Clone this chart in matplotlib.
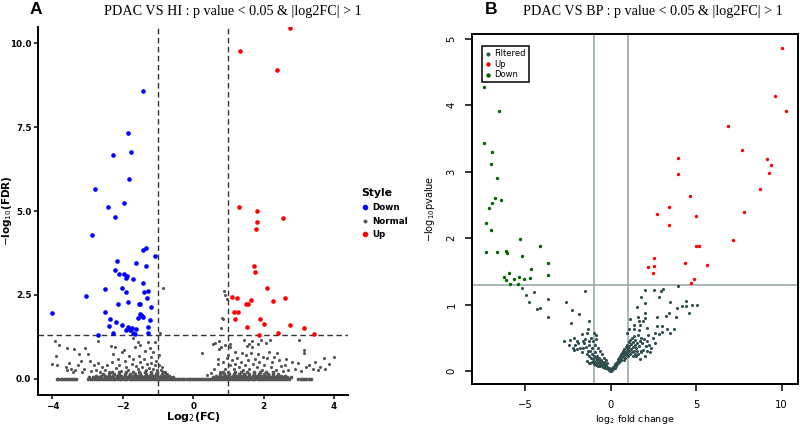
import matplotlib
matplotlib.use("Agg")
import matplotlib.pyplot as plt
from matplotlib.lines import Line2D

# ---------------- panel A : PDAC vs HI ----------------
a_down = [(-1.44, 8.58), (-1.85, 7.31), (-2.28, 6.66), (-1.78, 6.77), (-1.82, 5.95),
          (-2.78, 5.65), (-2.41, 5.11), (-1.97, 5.23), (-2.22, 4.82), (-2.88, 4.30),
          (-4.0, 1.97), (-3.04, 2.47), (-1.35, 3.90), (-1.44, 3.84), (-1.10, 3.66),
          (-2.18, 3.52), (-1.63, 3.46), (-1.35, 3.37), (-2.22, 3.23), (-2.10, 3.12),
          (-1.97, 3.12), (-1.89, 3.07), (-1.90, 3.02), (-1.71, 2.98), (-1.42, 2.86),
          (-2.03, 2.71), (-2.50, 2.67), (-1.92, 2.59), (-1.41, 2.59), (-1.28, 2.62),
          (-1.32, 2.42), (-1.85, 2.28), (-1.52, 2.22), (-1.55, 2.22), (-2.15, 2.22),
          (-1.21, 2.15), (-2.50, 2.00), (-1.52, 1.93), (-1.49, 1.90), (-1.45, 1.87),
          (-1.58, 1.82), (-1.42, 1.83), (-2.36, 1.78), (-1.24, 1.76), (-2.20, 1.69),
          (-2.03, 1.60), (-2.38, 1.58), (-1.86, 1.56), (-1.74, 1.53), (-1.29, 1.55),
          (-1.91, 1.45), (-1.80, 1.45), (-1.64, 1.50), (-2.27, 1.38), (-1.71, 1.36),
          (-1.66, 1.33), (-1.28, 1.36), (-2.71, 1.31)]

a_up = [(2.75, 10.46), (1.33, 9.77), (2.39, 9.21), (1.29, 5.11), (1.82, 4.99),
        (2.54, 4.79), (1.81, 4.68), (1.78, 4.46), (1.73, 3.36), (1.77, 3.18),
        (2.11, 2.71), (1.10, 2.43), (1.25, 2.42), (2.62, 2.41), (1.63, 2.36),
        (2.26, 2.31), (1.50, 2.24), (1.57, 2.23), (1.16, 2.00), (1.28, 2.00),
        (1.18, 1.79), (1.91, 1.78), (2.00, 1.65), (1.52, 1.55), (2.75, 1.60),
        (3.15, 1.52), (2.41, 1.38), (1.86, 1.31), (3.44, 1.35)]

# scattered "Normal" genes above the dense band
a_normal = [(-0.86, 2.72), (-0.94, 1.38), (-3.94, 1.13), (-3.82, 1.00), (-3.58, 0.93),
            (-3.38, 0.88), (-3.07, 0.92), (-3.90, 0.67), (-4.0, 0.44), (-3.86, 0.40),
            (-2.72, 1.13), (-3.24, 0.74), (-3.00, 0.74), (-2.94, 0.53), (-3.52, 0.46),
            (-3.48, 0.31), (-3.62, 0.36), (-3.35, 0.28), (-3.27, 0.40), (-2.70, 0.47),
            (-2.81, 0.41), (-2.35, 0.99), (-2.23, 0.96), (-2.28, 0.73), (-1.97, 0.87),
            (-2.03, 0.80), (-2.13, 0.60), (-1.71, 1.22), (-1.66, 0.96), (-1.56, 1.10),
            (-1.50, 1.01), (-1.28, 1.10), (-1.10, 1.09), (-1.23, 0.91), (-1.38, 0.84),
            (-1.15, 0.81), (-1.83, 0.68), (-1.53, 0.68), (-1.19, 0.64), (-1.05, 0.54),
            (-0.96, 0.42), (-2.6, 0.35), (-2.5, 0.28), (-2.45, 0.42), (-2.38, 0.22),
            (-2.3, 0.5), (-2.2, 0.32), (-2.1, 0.4), (-2.05, 0.25), (-1.95, 0.52),
            (-1.9, 0.35), (-1.85, 0.28), (-1.75, 0.45), (-1.7, 0.6), (-1.62, 0.38),
            (-1.58, 0.3), (-1.5, 0.5), (-1.45, 0.36), (-1.4, 0.58), (-1.35, 0.27),
            (-1.3, 0.44), (-1.25, 0.33), (-1.2, 0.48), (-1.14, 0.3), (-1.08, 0.4),
            (-1.02, 0.28), (-0.98, 0.7), (-0.92, 0.26), (-0.88, 0.35), (-0.8, 0.2),
            (-0.75, 0.15), (-2.9, 0.25), (-3.1, 0.3), (-3.15, 0.2), (-2.65, 0.2),
            (-2.75, 0.28), (-3.42, 0.22), (-3.2, 0.52), (-3.6, 0.26),
            (0.87, 2.63), (0.90, 2.49), (0.95, 2.37), (0.84, 1.78), (0.81, 1.80),
            (0.78, 1.53), (0.25, 0.78), (0.56, 1.04), (0.63, 1.06), (0.74, 1.13),
            (0.80, 0.95), (0.72, 0.88), (0.9, 1.0), (1.04, 1.05), (1.04, 0.96),
            (1.00, 0.72), (1.45, 1.17), (1.52, 0.98), (1.58, 1.05), (1.66, 1.12),
            (1.68, 0.96), (1.40, 0.78), (1.64, 0.78), (1.85, 1.03), (2.07, 1.08),
            (2.17, 1.17), (1.92, 1.16), (1.83, 0.74), (2.15, 0.79), (2.39, 0.76),
            (2.31, 0.66), (2.1, 0.62), (1.97, 0.64), (3.02, 1.15), (3.14, 0.86),
            (3.14, 0.77), (3.72, 0.62), (3.99, 0.65), (3.85, 0.44), (3.47, 0.51),
            (2.97, 0.48), (2.8, 0.5), (2.6, 0.42), (2.5, 0.38), (3.3, 0.42),
            (3.6, 0.36), (3.75, 0.3), (3.55, 0.28), (3.4, 0.3), (3.2, 0.35),
            (3.05, 0.25), (2.9, 0.3), (2.7, 0.28), (0.6, 0.3), (0.7, 0.45),
            (0.75, 0.2), (0.85, 0.5), (0.9, 0.3), (0.95, 0.62), (1.05, 0.4),
            (1.1, 0.55), (1.15, 0.3), (1.2, 0.45), (1.25, 0.62), (1.3, 0.35),
            (1.35, 0.5), (1.42, 0.28), (1.48, 0.42), (1.55, 0.55), (1.6, 0.3),
            (1.7, 0.45), (1.75, 0.6), (1.8, 0.35), (1.88, 0.5), (1.95, 0.28),
            (2.02, 0.42), (2.2, 0.35), (2.25, 0.5), (2.35, 0.28), (2.45, 0.55),
            (2.55, 0.25), (0.5, 0.18), (0.4, 0.12), (2.65, 0.6), (1.5, 0.7),
            (1.2, 0.8), (0.7, 0.6)]

# dense band of "Normal" genes near FDR = 1, one list of x per height
band_y = [0.0, 0.05, 0.10, 0.16, 0.22]
band_x0 = [-3.88, -3.83, -3.77, -3.72, -3.66, -3.61, -3.55, -3.5, -3.44, -3.39, -3.33,
           -2.99, -2.93, -2.88, -2.82, -2.77, -2.71, -2.65, -2.6, -2.54, -2.49, -2.43,
           -2.37, -2.32, -2.26, -2.21, -2.15, -2.09, -2.04, -1.98, -1.93, -1.87, -1.81,
           -1.76, -1.7, -1.65, -1.59, -1.53, -1.48, -1.42, -1.37, -1.31, -1.25, -1.2,
           -1.14, -1.09, -1.03, -0.97, -0.92, -0.86, -0.81, -0.75, -0.69, -0.64, -0.58,
           -0.53, -0.47, -0.41, -0.36, -0.3, -0.25, -0.19, -0.13, -0.08, -0.02, 0.03,
           0.09, 0.15, 0.2, 0.26, 0.31, 0.37, 0.43, 0.48, 0.54, 0.59, 0.65, 0.71, 0.76,
           0.82, 0.87, 0.93, 0.99, 1.04, 1.1, 1.15, 1.21, 1.27, 1.32, 1.38, 1.43, 1.49,
           1.55, 1.6, 1.66, 1.71, 1.77, 1.83, 1.88, 1.94, 1.99, 2.05, 2.11, 2.16, 2.22,
           2.27, 2.33, 2.39, 2.44, 2.5, 2.55, 2.61, 2.67, 2.72, 2.99, 3.05, 3.1, 3.16,
           3.22, 3.28, 3.34]
band_x1 = [-2.95, -2.86, -2.78, -2.69, -2.61, -2.52, -2.44, -2.35, -2.27, -2.18, -2.1,
           -2.01, -1.93, -1.84, -1.76, -1.67, -1.59, -1.5, -1.42, -1.33, -1.25, -1.16,
           -1.08, -0.99, -0.91, -0.82, -0.74, -0.65, -0.57, 0.56, 0.64, 0.73, 0.81, 0.9,
           0.98, 1.07, 1.15, 1.24, 1.32, 1.41, 1.49, 1.58, 1.66, 1.75, 1.83, 1.92, 2.0,
           2.09, 2.17, 2.26, 2.34, 2.43, 2.51, 2.6, 2.68, 2.77]
band_x2 = [-2.75, -2.63, -2.52, -2.4, -2.29, -2.17, -2.06, -1.94, -1.83, -1.71, -1.6,
           -1.48, -1.37, -1.25, -1.14, -1.02, -0.91, -0.79, -0.68, 0.66, 0.77, 0.89, 1.0,
           1.12, 1.23, 1.35, 1.46, 1.58, 1.69, 1.81, 1.92, 2.04, 2.15, 2.27, 2.38, 2.5,
           2.61]
band_x3 = [-2.55, -2.4, -2.25, -2.1, -1.95, -1.8, -1.65, -1.5, -1.35, -1.2, -1.05, -0.9,
           -0.78, 0.75, 0.88, 1.02, 1.16, 1.3, 1.44, 1.58, 1.72, 1.86, 2.0, 2.14, 2.28,
           2.42]
band_x4 = [-2.3, -2.1, -1.9, -1.72, -1.55, -1.38, -1.2, -1.02, -0.86, 0.84, 1.0, 1.18,
           1.36, 1.54, 1.72, 1.9, 2.08, 2.26]

# ---------------- panel B : PDAC vs BP ----------------
b_down = [(-7.40, 4.27), (-6.54, 3.92), (-7.44, 3.43), (-6.97, 3.30), (-7.01, 3.11),
          (-6.66, 2.90), (-6.76, 2.61), (-6.43, 2.57), (-6.97, 2.53), (-7.11, 2.46),
          (-7.31, 2.23), (-7.03, 2.12), (-5.31, 1.99), (-4.14, 1.89), (-7.29, 1.79),
          (-6.68, 1.79), (-6.15, 1.81), (-6.07, 1.78), (-5.21, 1.73), (-3.65, 1.63),
          (-4.69, 1.54), (-5.98, 1.48), (-3.67, 1.45), (-6.23, 1.41), (-5.37, 1.42),
          (-6.12, 1.37), (-5.65, 1.39), (-5.06, 1.38), (-4.71, 1.40), (-5.90, 1.31),
          (-5.45, 1.31)]

b_up = [(10.05, 4.87), (9.63, 4.14), (10.29, 3.92), (6.85, 3.69), (7.71, 3.33),
        (9.16, 3.19), (9.41, 3.10), (9.27, 2.98), (3.94, 3.20), (3.94, 2.97),
        (4.66, 2.64), (8.76, 2.74), (3.40, 2.47), (2.73, 2.37), (7.83, 2.40),
        (5.02, 2.33), (3.43, 2.20), (7.15, 1.97), (4.98, 1.88), (5.19, 1.88),
        (2.54, 1.70), (2.17, 1.57), (2.55, 1.58), (4.35, 1.62), (5.64, 1.59),
        (2.50, 1.48), (4.88, 1.38), (4.69, 1.32)]

b_filtered = [(-5.18, 1.25), (-4.49, 1.19), (-4.98, 1.14), (-4.79, 1.04), (-3.67, 1.08),
              (-2.62, 1.04), (-1.51, 1.20), (-4.30, 0.94), (-4.16, 0.95), (-2.28, 0.92),
              (-1.86, 0.86), (-3.67, 0.81), (-2.33, 0.73), (-1.25, 0.76), (-1.31, 0.63),
              (-2.72, 0.46), (-2.39, 0.47), (-2.16, 0.50), (-2.0, 0.46), (-0.98, 0.58),
              (-0.86, 0.55), (-2.1, 0.40), (-1.8, 0.34), (-1.1, 0.34), (-1.70, 0.56),
              (-1.51, 0.48), (-1.37, 0.58), (-1.6, 0.34), (-1.7, 0.29), (-1.41, 0.25),
              (-1.27, 0.22), (-1.96, 0.33), (-2.15, 0.31), (-1.55, 0.42), (-1.45, 0.36),
              (-1.35, 0.3), (-1.3, 0.45), (-1.25, 0.4), (-1.2, 0.3), (-1.15, 0.5),
              (-1.9, 0.42), (-2.2, 0.35), (-2.45, 0.4), (-1.65, 0.45), (-1.05, 0.45),
              (-0.9, 0.4), (-0.75, 0.35), (-0.6, 0.3), (-0.5, 0.25), (-0.4, 0.2),
              (-0.3, 0.17), (-0.2, 0.12), (-0.85, 0.48), (-1.4, 0.15), (-1.3, 0.12),
              (-1.2, 0.12), (-1.15, 0.2), (-1.1, 0.14), (-1.08, 0.26), (-1.05, 0.18),
              (-1.0, 0.1), (-0.98, 0.22), (-0.95, 0.15), (-0.92, 0.28), (-0.9, 0.12),
              (-0.88, 0.19), (-0.85, 0.09), (-0.82, 0.16), (-0.8, 0.23), (-0.78, 0.12),
              (-0.75, 0.18), (-0.72, 0.08), (-0.7, 0.14), (-0.68, 0.2), (-0.65, 0.1),
              (-0.62, 0.15), (-0.6, 0.07), (-0.58, 0.12), (-0.55, 0.17), (-0.52, 0.09),
              (-0.5, 0.13), (-0.48, 0.06), (-0.45, 0.1), (-0.42, 0.14), (-0.4, 0.07),
              (-0.37, 0.1), (-0.35, 0.05), (-0.32, 0.08), (-0.3, 0.11), (-0.27, 0.05),
              (-0.25, 0.08), (-0.22, 0.04), (-0.2, 0.06), (-0.17, 0.03), (-0.15, 0.05),
              (-0.12, 0.02), (-0.1, 0.04), (-0.07, 0.02), (-0.05, 0.01), (-0.02, 0.0),
              (0.02, 0.0), (0.05, 0.02), (0.08, 0.03), (0.1, 0.05), (0.13, 0.03),
              (0.15, 0.06), (0.18, 0.04), (0.2, 0.08), (0.23, 0.05), (0.25, 0.1),
              (0.28, 0.07), (0.3, 0.12), (0.33, 0.08), (0.35, 0.14), (0.38, 0.1),
              (0.4, 0.16), (0.43, 0.12), (0.45, 0.18), (0.48, 0.13), (0.5, 0.2),
              (0.53, 0.15), (0.55, 0.22), (0.58, 0.17), (0.6, 0.25), (0.63, 0.19),
              (0.65, 0.27), (0.68, 0.21), (0.7, 0.3), (0.73, 0.23), (0.75, 0.17),
              (0.78, 0.26), (0.8, 0.33), (0.83, 0.2), (0.85, 0.28), (0.88, 0.36),
              (0.9, 0.24), (0.93, 0.31), (0.95, 0.4), (0.98, 0.27), (1.0, 0.35),
              (1.03, 0.22), (1.05, 0.44), (1.08, 0.3), (1.1, 0.38), (1.13, 0.25),
              (1.15, 0.47), (1.18, 0.33), (1.2, 0.41), (1.23, 0.28), (1.25, 0.5),
              (1.28, 0.36), (1.3, 0.22), (1.33, 0.44), (1.35, 0.3), (1.38, 0.53),
              (1.4, 0.4), (1.43, 0.26), (1.45, 0.47), (1.48, 0.34), (1.5, 0.22),
              (1.53, 0.42), (1.55, 0.3), (1.58, 0.55), (1.6, 0.25), (1.65, 0.38),
              (1.7, 0.46), (1.75, 0.3), (3.92, 1.28), (1.99, 1.22), (2.54, 1.22),
              (2.95, 1.2), (3.07, 1.23), (1.79, 1.12), (2.82, 1.11), (1.99, 1.03),
              (3.49, 1.04), (4.43, 1.05), (4.2, 0.98), (4.4, 0.98), (4.77, 0.99),
              (5.08, 1.00), (1.52, 0.96), (3.9, 0.95), (4.59, 0.87), (2.0, 0.87),
              (3.4, 0.87), (3.26, 0.83), (1.6, 0.82), (1.65, 0.76), (1.9, 0.76),
              (1.13, 0.78), (2.0, 0.8), (2.7, 0.82), (3.8, 0.82), (1.38, 0.70),
              (1.72, 0.70), (2.69, 0.68), (3.0, 0.68), (3.27, 0.63), (3.71, 0.64),
              (1.05, 0.64), (1.35, 0.64), (1.64, 0.62), (2.1, 0.65), (2.6, 0.57),
              (2.85, 0.56), (3.02, 0.59), (3.47, 0.58), (0.95, 0.58), (1.75, 0.5),
              (1.85, 0.42), (1.95, 0.48), (2.05, 0.38), (2.15, 0.45), (2.25, 0.4),
              (2.35, 0.35), (2.45, 0.5), (2.2, 0.55), (1.9, 0.32), (2.6, 0.42),
              (2.3, 0.28), (1.8, 0.28), (2.0, 0.22), (1.7, 0.18), (2.1, 0.3)]


def xs(points):
    return [p[0] for p in points]


def ys(points):
    return [p[1] for p in points]


fig = plt.figure(figsize=(8, 4.28), dpi=100)

# ---- panel A ----
ax1 = fig.add_axes([0.048, 0.077, 0.387, 0.86])
grey = '#555555'
band_rows = [band_x0, band_x1, band_x2, band_x3, band_x4]
for yv, row in zip(band_y, band_rows):
    ax1.scatter(row, [yv] * len(row), s=7, color=grey, linewidths=0, zorder=2)
ax1.scatter(xs(a_normal), ys(a_normal), s=5, color=grey, linewidths=0, zorder=2)
ax1.scatter(xs(a_down), ys(a_down), s=11, color='#0000FF', linewidths=0, zorder=3)
ax1.scatter(xs(a_up), ys(a_up), s=11, color='#FF0000', linewidths=0, zorder=3)
for xv in (-1, 1):
    ax1.axvline(xv, color='#333333', lw=1.0, ls=(0, (4, 2.5)), zorder=1)
ax1.axhline(1.301, color='#333333', lw=1.0, ls=(0, (4, 2.5)), zorder=1)
ax1.set_xlim(-4.4, 4.4)
ax1.set_ylim(-0.48, 10.48)
ax1.set_xticks([-4, -2, 0, 2, 4])
ax1.set_yticks([0, 2.5, 5, 7.5, 10])
ax1.set_yticklabels(['0.0', '2.5', '5.0', '7.5', '10.0'])
for s in ('top', 'right'):
    ax1.spines[s].set_visible(False)
for s in ('left', 'bottom'):
    ax1.spines[s].set_linewidth(1.4)
ax1.tick_params(width=1.1, length=3, labelsize=6.3, pad=2)
for lab in ax1.get_xticklabels() + ax1.get_yticklabels():
    lab.set_fontweight('bold')
ax1.set_xlabel('Log$_2$(FC)', fontsize=8, fontweight='bold')
ax1.xaxis.set_label_coords(0.5, -0.04)
ax1.set_ylabel('$-$log$_{10}$(FDR)', fontsize=7.5, fontweight='bold')
ax1.yaxis.set_label_coords(-0.078, 0.5)
fig.text(233 / 800, 1 - 11 / 428, 'PDAC VS HI : p value < 0.05 & |log2FC| > 1',
         family='Liberation Serif', fontsize=10.2, ha='center', va='center')

handles = [Line2D([], [], ls='', marker='o', ms=3, color='#0000FF'),
           Line2D([], [], ls='', marker='o', ms=1.8, color=grey),
           Line2D([], [], ls='', marker='o', ms=3, color='#FF0000')]
leg = fig.legend(handles, ['Down', 'Normal', 'Up'], title='Style', loc='upper left',
                 bbox_to_anchor=(0.444, 0.575), frameon=False, fontsize=6.3,
                 title_fontsize=7.8, handlelength=0.8, handletextpad=0.4,
                 labelspacing=0.55, borderpad=0.2)
leg._legend_box.align = 'left'
for t in leg.get_texts():
    t.set_fontweight('bold')
leg.get_title().set_fontweight('bold')

# ---- panel B ----
ax2 = fig.add_axes([0.5896, 0.1035, 0.408, 0.8165])
ax2.scatter(xs(b_filtered), ys(b_filtered), s=5, color='#2F4F4F', linewidths=0, zorder=2,
            label='Filtered')
ax2.scatter(xs(b_up), ys(b_up), s=6, color='#FF0000', linewidths=0, zorder=3, label='Up')
ax2.scatter(xs(b_down), ys(b_down), s=6, color='#006400', linewidths=0, zorder=3,
            label='Down')
line_col = '#9AAAAA'
for xv in (-1, 1):
    ax2.axvline(xv, color=line_col, lw=1.2, zorder=1)
ax2.axhline(1.301, color=line_col, lw=1.2, zorder=1)
ax2.set_xlim(-8.14, 10.97)
ax2.set_ylim(-0.19, 5.07)
ax2.set_xticks([-5, 0, 5, 10])
ax2.set_yticks([0, 1, 2, 3, 4, 5])
for s in ax2.spines.values():
    s.set_linewidth(1.4)
ax2.tick_params(width=1.1, length=5, labelsize=7.2)
ax2.tick_params(axis='x', pad=7)
ax2.tick_params(axis='y', pad=6)
for lab in ax2.get_yticklabels():
    lab.set_rotation(90)
    lab.set_va('center')
ax2.set_xlabel('log$_2$ fold change', fontsize=6.8)
ax2.xaxis.label.set_va('bottom')
ax2.xaxis.set_label_coords(0.5, -0.12)
ax2.set_ylabel('$-$log$_{10}$pvalue', fontsize=7)
ax2.yaxis.set_label_coords(-0.105, 0.5)
fig.text(653 / 800, 1 - 11 / 428, 'PDAC VS BP : p value < 0.05 & |log2FC| > 1',
         family='Liberation Serif', fontsize=10.2, ha='center', va='center')
lg = ax2.legend(loc='upper left', bbox_to_anchor=(0.02, 0.978), fontsize=6,
                markerscale=1.3, handlelength=0.6, handletextpad=0.4, labelspacing=0.15,
                borderpad=0.4, fancybox=False, framealpha=1)
lg.get_frame().set_edgecolor('black')
lg.get_frame().set_linewidth(1.1)

fig.text(35.5 / 800, 1 - 9.5 / 428, 'A', family='Liberation Sans', fontsize=12.5,
         fontweight='bold', ha='center', va='center')
fig.text(491 / 800, 1 - 10 / 428, 'B', family='Liberation Sans', fontsize=12.5,
         fontweight='bold', ha='center', va='center')

fig.savefig('out.png', dpi=100)
